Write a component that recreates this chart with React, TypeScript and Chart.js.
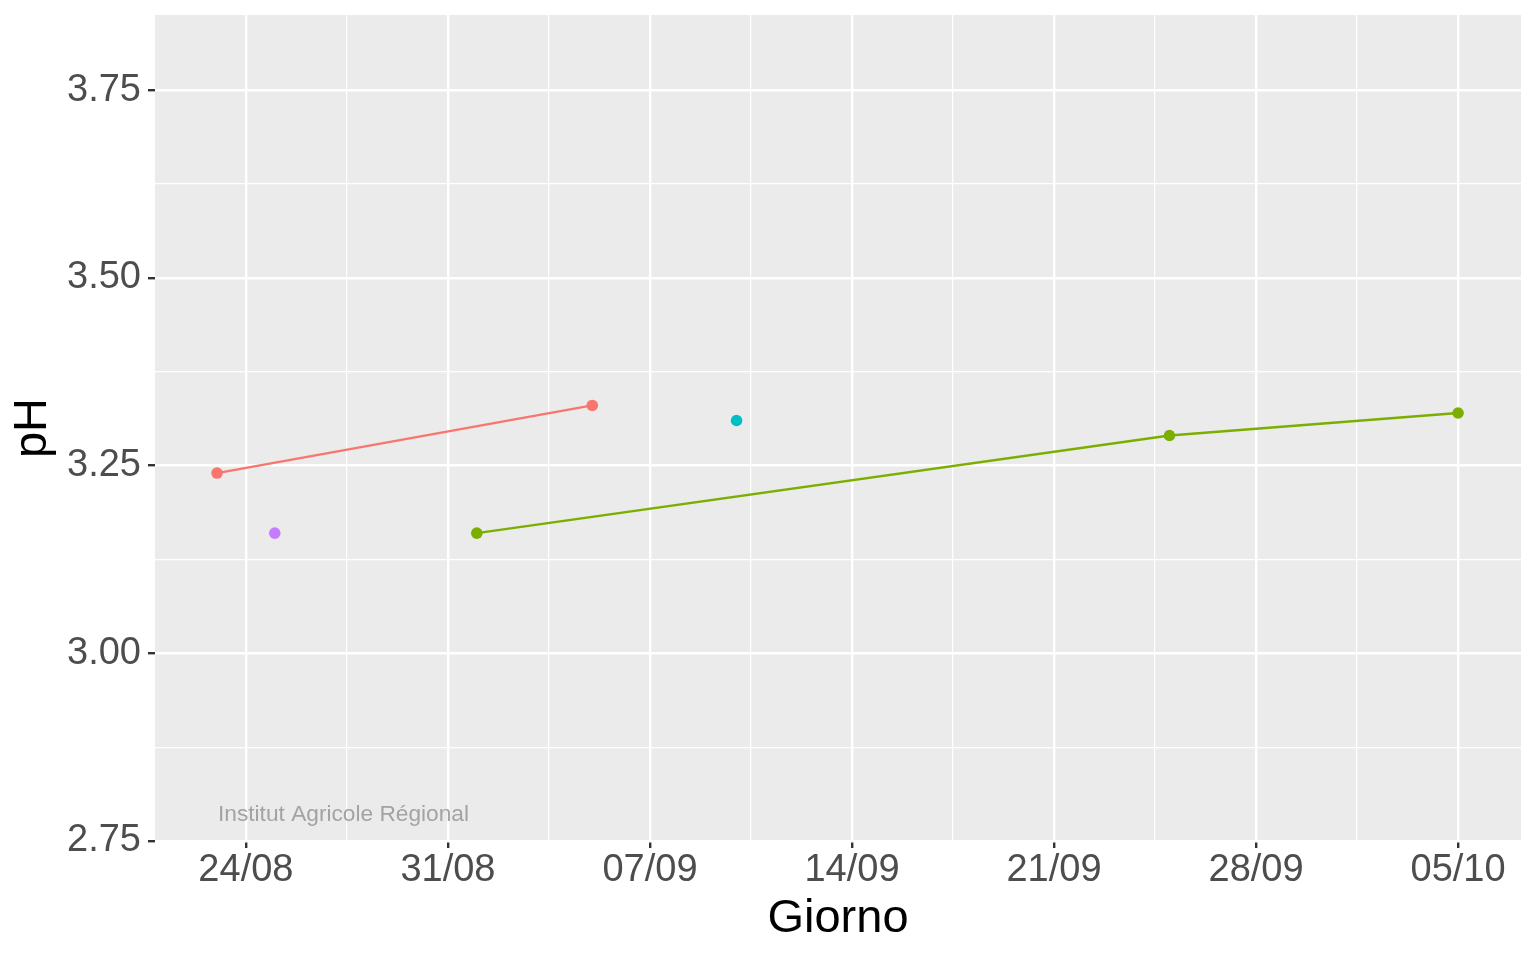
import React, { useEffect, useRef } from "react";
import { Chart, registerables } from "chart.js";

Chart.register(...registerables);

// days offset from 24/08
const tickDays = [0, 7, 14, 21, 28, 35, 42];
const tickLabels = ["24/08", "31/08", "07/09", "14/09", "21/09", "28/09", "05/10"];

const redDays = [-1, 12];
const redValues = [3.24, 3.33];
const greenDays = [8, 32, 42];
const greenValues = [3.16, 3.29, 3.32];
const cyanDays = [17];
const cyanValues = [3.31];
const purpleDays = [1];
const purpleValues = [3.16];

const yTicks = [2.75, 3.0, 3.25, 3.5, 3.75];

const FONT = "Liberation Sans, Arial, sans-serif";

const toPts = (xs: number[], ys: number[]) => xs.map((x, i) => ({ x, y: ys[i] }));

const isMajorY = (v: number) => yTicks.some((t) => Math.abs(t - v) < 1e-6);
const isMajorX = (v: number) => tickDays.some((t) => Math.abs(t - v) < 1e-6);

const bgPlugin = {
  id: "panelBg",
  beforeDraw(chart: any) {
    const { ctx, chartArea } = chart;
    ctx.save();
    ctx.fillStyle = "#EBEBEB";
    ctx.fillRect(chartArea.left, chartArea.top, chartArea.right - chartArea.left, chartArea.bottom - chartArea.top);
    ctx.restore();
  },
  afterDatasetsDraw(chart: any) {
    const { ctx } = chart;
    ctx.save();
    ctx.fillStyle = "#A3A3A3";
    ctx.font = `22.7px ${FONT}`;
    ctx.textBaseline = "alphabetic";
    ctx.fillText("Institut Agricole Régional", 218, 821);
    ctx.restore();
  },
};

export default function App() {
  const ref = useRef<HTMLCanvasElement | null>(null);
  useEffect(() => {
    if (!ref.current) return;
    const mk = (xs: number[], ys: number[], color: string) => ({
      data: toPts(xs, ys),
      borderColor: color,
      backgroundColor: color,
      borderWidth: 2.3,
      pointRadius: 5.8,
      pointBorderWidth: 0,
      pointHoverRadius: 5.8,
      showLine: true,
      tension: 0,
    });
    const chart = new Chart(ref.current, {
      type: "scatter",
      data: {
        datasets: [
          mk(redDays, redValues, "#F8766D"),
          mk(greenDays, greenValues, "#7CAE00"),
          mk(cyanDays, cyanValues, "#00BFC4"),
          mk(purpleDays, purpleValues, "#C77CFF"),
        ] as any,
      },
      plugins: [bgPlugin],
      options: {
        animation: false,
        responsive: false,
        devicePixelRatio: 1,
        layout: { padding: { top: 15, right: 15, left: 0, bottom: 0 } },
        plugins: { legend: { display: false }, tooltip: { enabled: false } },
        scales: {
          x: {
            type: "linear",
            min: -3.15,
            max: 44.18,
            afterBuildTicks: (s: any) => {
              const t: any[] = [];
              for (let v = -3.5; v <= 44.18; v += 3.5) {
                if (v >= -3.15) t.push({ value: v });
              }
              s.ticks = t;
            },
            afterFit: (s: any) => {
              s.height = 119;
              s.paddingLeft = 0;
              s.paddingRight = 0;
            },
            ticks: {
              autoSkip: false,
              maxRotation: 0,
              color: "#4D4D4D",
              font: { size: 38, family: FONT },
              padding: 0,
              callback: (v: any) => {
                const i = tickDays.indexOf(Number(v));
                return i >= 0 ? tickLabels[i] : "";
              },
            },
            grid: {
              drawOnChartArea: true,
              color: "#FFFFFF",
              lineWidth: (c: any) => (c.tick && isMajorX(Number(c.tick.value)) ? 2.4 : 1.2),
              tickColor: (c: any) => (c.tick && isMajorX(Number(c.tick.value)) ? "#333333" : "rgba(0,0,0,0)"),
              tickLength: 7,
              tickWidth: 2.4,
            },
            border: { display: false },
            title: {
              display: true,
              text: "Giorno",
              color: "#000000",
              font: { size: 47, family: FONT },
              padding: { top: 0, bottom: 13 },
            },
          },
          y: {
            type: "linear",
            min: 2.75,
            max: 3.85,
            afterBuildTicks: (s: any) => {
              const t: any[] = [];
              for (let v = 2.75; v <= 3.851; v += 0.125) t.push({ value: Math.round(v * 1000) / 1000 });
              s.ticks = t;
            },
            afterFit: (s: any) => {
              s.width = 155;
              s.paddingTop = 0;
              s.paddingBottom = 0;
            },
            ticks: {
              autoSkip: false,
              color: "#4D4D4D",
              font: { size: 38, family: FONT },
              padding: 7,
              callback: (v: any) => {
                const n = Number(v);
                return isMajorY(n) ? n.toFixed(2) : "";
              },
            },
            grid: {
              color: "#FFFFFF",
              lineWidth: (c: any) => (c.tick && isMajorY(Number(c.tick.value)) ? 2.4 : 1.2),
              tickColor: (c: any) => (c.tick && isMajorY(Number(c.tick.value)) ? "#333333" : "rgba(0,0,0,0)"),
              tickLength: 7,
              tickWidth: 2.4,
            },
            border: { display: false },
            title: {
              display: true,
              text: "pH",
              color: "#000000",
              font: { size: 47, family: FONT },
              padding: { top: 5, bottom: 0 },
            },
          },
        },
      } as any,
    });
    return () => chart.destroy();
  }, []);
  return (
    <div style={{ position: "absolute", left: 0, top: 0, width: 1536, height: 960, background: "#fff" }}>
      <canvas ref={ref} width={1536} height={960} style={{ width: 1536, height: 960 }} />
    </div>
  );
}
